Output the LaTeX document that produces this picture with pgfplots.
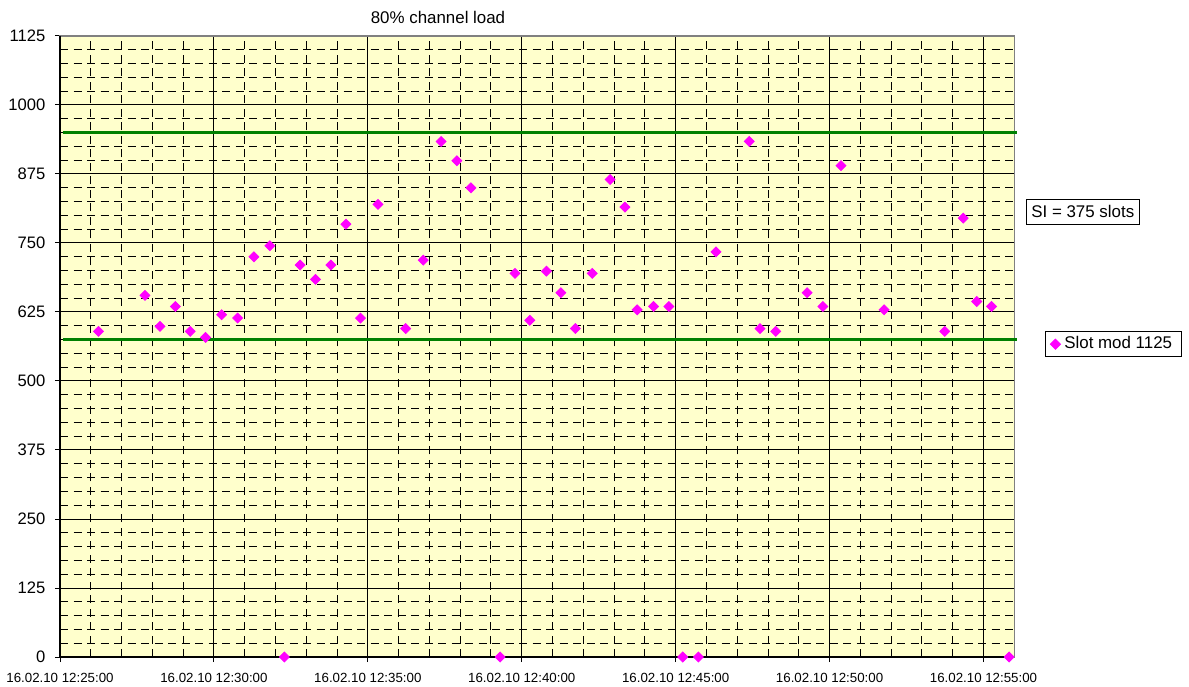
\documentclass[border=0pt]{standalone}
\usepackage{fontspec}
\setmainfont{Liberation Sans}
\usepackage{pgfplots}
\pgfplotsset{compat=1.18}

\definecolor{plotbg}{RGB}{255,255,204}
\definecolor{slotmag}{RGB}{255,0,255}
\definecolor{siGreen}{RGB}{0,128,0}

\newcommand{\lblfont}{\fontsize{8.45}{10}\selectfont}

\begin{document}
\begin{tikzpicture}
\begin{axis}[
    at={(30pt,14.5pt)}, anchor=south west,
    scale only axis,
    width=477.15pt, height=310.5pt,
    xmin=0, xmax=31,
    ymin=0, ymax=1125,
    xtick={0,5,...,30},
    xticklabels={16.02.10 12:25:00,16.02.10 12:30:00,16.02.10 12:35:00,16.02.10 12:40:00,16.02.10 12:45:00,16.02.10 12:50:00,16.02.10 12:55:00},
    ytick={0,125,...,1125},
    minor x tick num=4,
    minor y tick num=4,
    grid=both,
    major grid style={black, line width=0.5pt},
    minor grid style={black, line width=0.5pt, dash pattern=on 4pt off 2.75pt},
    axis background/.style={fill=plotbg},
    axis line style={gray, line width=0.6pt},
    tick pos=left,
    tick align=outside,
    major tick length=2.5pt,
    minor tick length=0pt,
    every tick/.style={black, line width=0.5pt},
    /pgf/number format/assume math mode=true,
    /pgf/number format/1000 sep={},
    yticklabel style={font=\fontsize{8.3}{10}\selectfont, xshift=-1.3pt},
    xticklabel style={font=\fontsize{6.65}{8}\selectfont, yshift=-2.2pt},
    clip=false,
    legend image code/.code={\draw[#1] plot coordinates {(3pt,0pt)};},
    legend style={at={(1.1037,0.5037)}, anchor=center, draw=black, fill=white,
        line width=0.5pt, font=\lblfont, inner xsep=2.6pt, inner ysep=0.5pt,
        legend cell align=left},
]
% black axis lines on left and bottom
\draw[black, line width=0.6pt] (rel axis cs:0,1) -- (rel axis cs:0,0) -- (rel axis cs:1,0);

% SI band limits
\addplot[siGreen, line width=1.3pt, forget plot] coordinates {(0.1,950) (31.1,950)};
\addplot[siGreen, line width=1.3pt, forget plot] coordinates {(0.1,575) (31.1,575)};

% slot mod 1125 (minutes after 12:25:00)
\addplot[only marks, mark=square*, mark size=1.75pt,
    mark options={rotate=45, fill=slotmag, draw=slotmag}]
coordinates {
(1.25,590) (2.76,655) (3.25,599) (3.75,635) (4.23,590) (4.73,579)
(5.25,620) (5.77,614) (6.30,725) (6.82,745) (7.29,0) (7.80,710)
(8.30,684) (8.80,710) (9.29,784) (9.76,614) (10.33,820) (11.23,595)
(11.80,719) (12.38,934) (12.89,899) (13.35,850) (14.30,0) (14.78,695)
(15.26,610) (15.80,699) (16.27,660) (16.74,595) (17.29,695) (17.87,865)
(18.35,815) (18.75,629) (19.28,635) (19.78,635) (20.23,0) (20.74,0)
(21.31,734) (22.39,934) (22.74,595) (23.25,590) (24.27,660) (24.78,635)
(25.37,890) (26.77,629) (28.74,590) (29.34,795) (29.78,644) (30.26,635)
(30.83,0)
};
\addlegendentry{Slot mod 1125}
\end{axis}

\node[font=\lblfont] at (219pt,334.25pt) {80\% channel load};
\node[draw=black, fill=white, line width=0.5pt, font=\lblfont,
      minimum width=56.2pt, minimum height=12.5pt, inner sep=0pt]
      at (541.4pt,237.1pt) {SI = 375 slots};

\pgfresetboundingbox
\path (0,0) rectangle (594.5pt,343pt);
\end{tikzpicture}
\end{document}
